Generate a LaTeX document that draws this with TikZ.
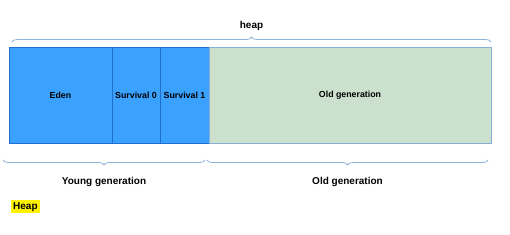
\documentclass[tikz,border=0pt]{standalone}
\usepackage{fontspec}
\setmainfont{Liberation Sans}
\usepackage{tikz}
\usetikzlibrary{positioning,decorations.pathreplacing}
\definecolor{younggen}{HTML}{3AA1FF}
\definecolor{youngline}{HTML}{1F6FCB}
\definecolor{oldgen}{HTML}{CCE0CE}
\definecolor{oldline}{HTML}{86AED6}
\definecolor{braceblue}{HTML}{8FB4DC}
\definecolor{marker}{HTML}{FFF200}

\begin{document}
\begin{tikzpicture}[
  x=1pt, y=-1pt,
  every node/.style={font=\fontsize{8.8}{10}\selectfont\bfseries},
  cell/.style={draw=youngline, fill=younggen, line width=.6pt, minimum height=96pt, inner sep=0pt, outer sep=0pt},
  oldcell/.style={cell, draw=oldline, fill=oldgen},
  brace/.style={draw=braceblue, line width=.8pt, decorate, decoration={brace, amplitude=5pt}},
  genlabel/.style={font=\fontsize{10}{12}\selectfont\bfseries}
]
\useasboundingbox (0,0) rectangle (510,234);
% memory regions
\node[cell, anchor=north west, minimum width=103pt] (eden) at (9,47) {Eden};
\node[cell, right=0pt of eden, minimum width=48pt] (surv0) {Survival 0};
\node[cell, right=0pt of surv0, minimum width=49pt] (surv1) {Survival 1};
\node[oldcell, right=0pt of surv1, minimum width=282pt] (old) {Old generation};
% braces
\coordinate (heapL) at (12,42);
\coordinate (heapR) at (491,42);
\draw[brace] (heapL) -- (heapR) node[midway, above=8pt, genlabel] (heaplbl) {heap};
\coordinate (youngL) at (3,160);
\coordinate (youngR) at (205,160);
\coordinate (oldL) at (207,160);
\coordinate (oldR) at (488,160);
\draw[brace, decoration={mirror}] (youngL) -- (youngR) node[midway, below=14pt, genlabel] (younglbl) {Young generation};
\draw[brace, decoration={mirror}] (oldL) -- (oldR) node[midway, below=14pt, genlabel] (oldlbl) {Old generation};
% caption tag
\node[fill=marker, anchor=north west, inner sep=2pt, genlabel] (tag) at (11,200) {Heap};
\end{tikzpicture}
\end{document}
